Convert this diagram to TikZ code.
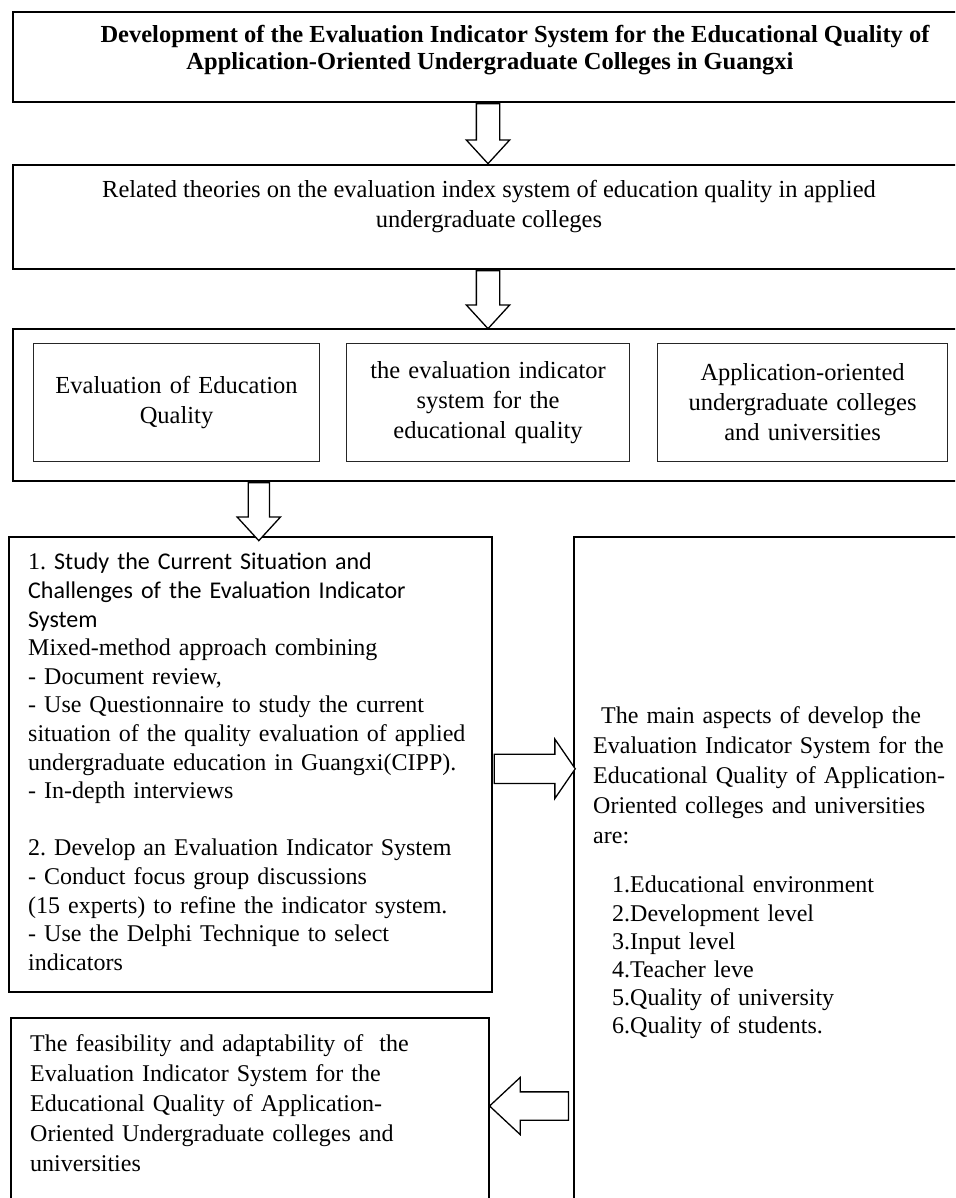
\documentclass[tikz,border=0pt]{standalone}
\usepackage{fontspec}
\setmainfont{Liberation Serif}
\newfontfamily\calibrifont{Carlito}
\usetikzlibrary{shapes.arrows,calc,positioning}
\newcommand{\bodysize}{\fontsize{24.5pt}{30pt}\selectfont}
\frenchspacing

\begin{document}
\begin{tikzpicture}[x=1pt,y=-1pt,font=\bodysize,
    box/.style={draw,line width=#1,anchor=north west,inner sep=0pt},
    box/.default=1.6pt,
    subbox/.style={draw=black!85,line width=1.1pt,anchor=north west,minimum height=118pt,
      text width=262pt,inner sep=5pt,align=center,text=black},
    lbl/.style={inner sep=0pt,anchor=north west,align=left},
    blockarr/.style={draw,line width=1.3pt,fill=white,single arrow,inner xsep=0pt,
      single arrow head indent=0pt}]
    \useasboundingbox (0,0) rectangle (955,1198);
    \clip (0,0) rectangle (955,1198);
    \fill[white] (0,0) rectangle (955,1198);
    % frames
    \node[box=2pt,minimum width=950pt,minimum height=90pt] (title) at (12,11) {};
    \node[box=2pt,minimum width=950pt,minimum height=104pt] (theory) at (12,164) {};
    \node[box=2pt,minimum width=950pt,minimum height=152pt] (concepts) at (12,328) {};
    \node[subbox,minimum width=286pt] (subA) at (33,343) {Evaluation of Education\\Quality};
    \node[subbox,minimum width=283pt] (subB) at (346,343) {the evaluation indicator\\system for the\\educational quality};
    \node[subbox,minimum width=290pt] (subC) at (657,343) {Application-oriented\\undergraduate colleges\\and universities};
    \node[box,minimum width=483pt,minimum height=455pt] (study) at (8,536) {};
    \node[box,minimum width=420pt,minimum height=680pt] (aspects) at (573,536) {};
    \node[box,minimum width=478pt,minimum height=220pt] (feasib) at (10,1017) {};
    % texts
    \node[font=\bfseries\fontsize{24.5pt}{27pt}\selectfont,align=center,inner sep=0pt] (titlelbl) at (490,50)
      {\hspace*{50pt}Development of the Evaluation Indicator System for the Educational Quality of\\
       Application-Oriented Undergraduate Colleges in Guangxi};
    \node[align=center,inner sep=0pt] (theorylbl) at (489,207)
      {Related theories on the evaluation index system of education quality in applied\\
       undergraduate colleges};
    \node[lbl,font=\fontsize{24pt}{28.6pt}\selectfont,text width=455pt] (studylbl) at (28,553)
      {1.\ {\calibrifont Study the Current Situation and}\\
       {\calibrifont Challenges of the Evaluation Indicator}\\
       {\calibrifont System}\\
       Mixed-method approach combining\\
       - Document review,\\
       - Use Questionnaire to study the current\\
       situation of the quality evaluation of applied\\
       undergraduate education in Guangxi(CIPP).\\
       - In-depth interviews\\[28.6pt]
       2. Develop an Evaluation Indicator System\\
       - Conduct focus group discussions\\
       (15 experts) to refine the indicator system.\\
       - Use the Delphi Technique to select\\
       indicators};
    \node[lbl,font=\fontsize{24pt}{30pt}\selectfont,text width=400pt] (aspectslbl) at (593,706)
      {\ The main aspects of develop the\\
       Evaluation Indicator System for the\\
       Educational Quality of Application-\\
       Oriented colleges and universities\\
       are:};
    \node[lbl,font=\fontsize{24pt}{28.2pt}\selectfont,text width=330pt] (aspectslist) at (612,876)
      {1.Educational environment\\
       2.Development level\\
       3.Input level\\
       4.Teacher leve\\
       5.Quality of university\\
       6.Quality of students.};
    \node[lbl,font=\fontsize{24pt}{30pt}\selectfont,text width=455pt] (feasiblbl) at (30,1034)
      {The feasibility and adaptability of \ the\\
       Evaluation Indicator System for the\\
       Educational Quality of Application-\\
       Oriented Undergraduate colleges and\\
       universities};
    % hollow arrows
    \node[blockarr,rotate=-90,minimum height=60pt,inner ysep=11pt,single arrow head extend=10pt,
      single arrow tip angle=85,anchor=tail] (arr1) at (title.south) {};
    \node[blockarr,rotate=-90,minimum height=58pt,inner ysep=11pt,single arrow head extend=10pt,
      single arrow tip angle=85,anchor=tail] (arr2) at (theory.south) {};
    \node[blockarr,rotate=-90,minimum height=58pt,inner ysep=10pt,single arrow head extend=11pt,
      single arrow tip angle=85,anchor=tail] (arr3) at ($(study.north |- concepts.south)+(8.5,0)$) {};
    \node[blockarr,minimum height=81pt,inner ysep=14pt,single arrow head extend=15pt,
      single arrow tip angle=111,anchor=tail] (arr4) at ($(study.east)+(1,4.5)$) {};
    \node[blockarr,rotate=180,minimum height=79pt,inner ysep=13.5pt,single arrow head extend=14.5pt,
      single arrow tip angle=86,anchor=tip] (arr5) at ($(feasib.north east)+(-1,89)$) {};
  \end{tikzpicture}
\end{document}
